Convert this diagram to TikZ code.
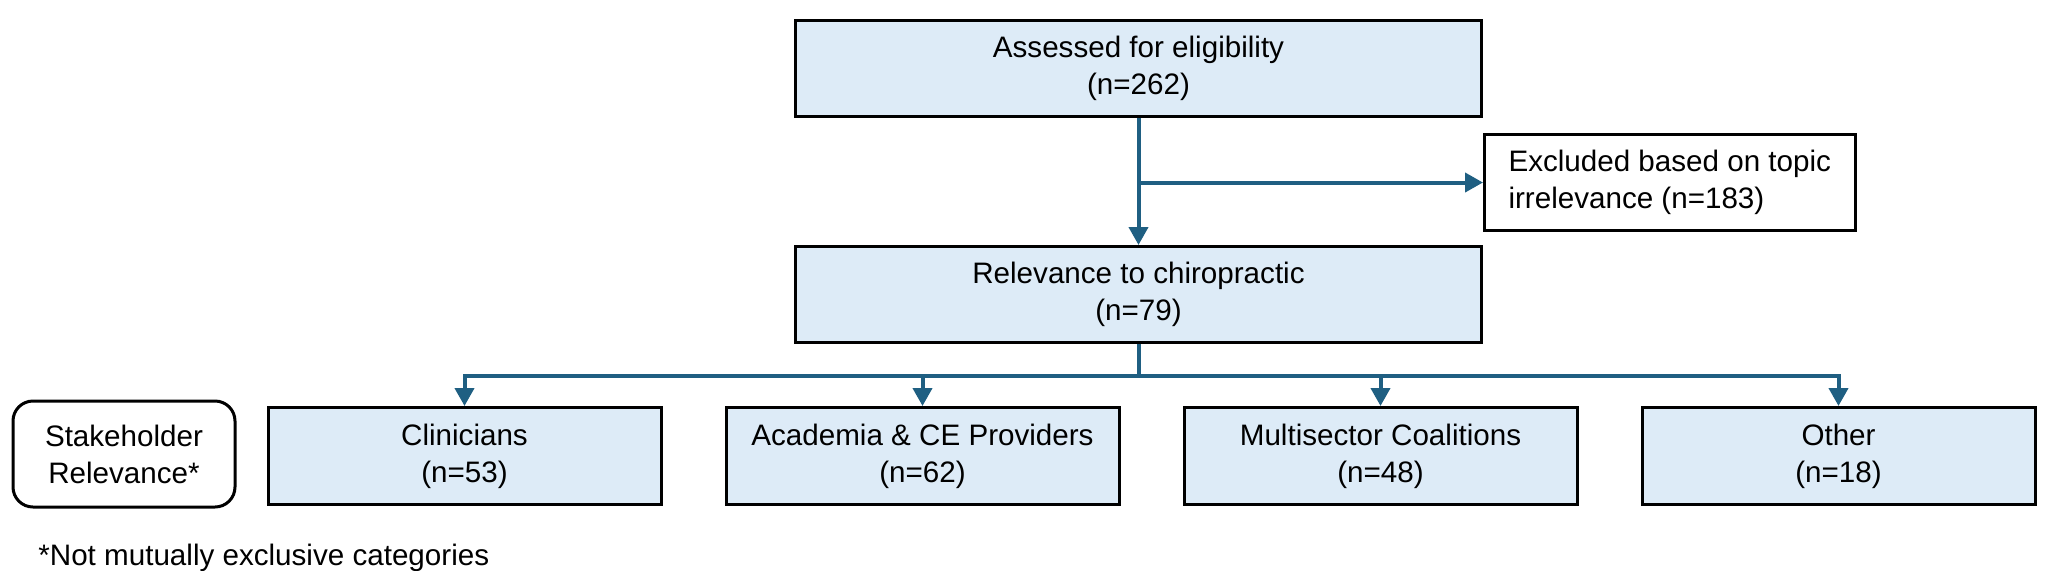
\documentclass[tikz,border=0pt]{standalone}
\usepackage{fontspec}
\setmainfont{Liberation Sans}
\usepackage{tikz}
\usetikzlibrary{arrows.meta, positioning, calc}
\definecolor{flowblue}{HTML}{1F5F82}
\definecolor{boxblue}{HTML}{DDEBF7}

\begin{document}
\begin{tikzpicture}[
    x=0.5pt, y=-0.5pt,
    every node/.style={font=\fontsize{14.8pt}{18.5pt}\selectfont},
    mainbox/.style={draw, fill=boxblue, line width=1.5pt, minimum width=343pt, minimum height=48pt, align=center},
    exclbox/.style={draw, fill=white, line width=1.5pt, minimum width=184pt, minimum height=48pt, align=left, inner xsep=12pt},
    catbox/.style={draw, fill=boxblue, line width=1.5pt, minimum width=196.5pt, minimum height=48.5pt, align=center},
    labelbox/.style={draw, rounded corners=10pt, line width=1.5pt, minimum width=111pt, minimum height=53pt, align=center},
    flow/.style={-{Triangle[length=9pt, width=9.5pt]}, line width=2pt, flowblue}
]
    \useasboundingbox (0,0) rectangle (2056,570);

    \node[mainbox] (assess) at (1138.5,68.5) {Assessed for eligibility\\(n=262)};
    \node[mainbox, below=63.5pt of assess] (relev) {Relevance to chiropractic\\(n=79)};
    \node[exclbox, anchor=west] (excl) at (1483,182.5) {Excluded based on topic\\irrelevance (n=183)};

    \node[catbox] (clin) at (464.5,456) {Clinicians\\(n=53)};
    \node[catbox, right=31pt of clin] (acad) {Academia \& CE Providers\\(n=62)};
    \node[catbox, right=31pt of acad] (multi) {Multisector Coalitions\\(n=48)};
    \node[catbox, right=31pt of multi] (other) {Other\\(n=18)};
    \node[labelbox, left=15pt of clin, yshift=1pt] (stake) {Stakeholder\\Relevance*};

    \node[anchor=base west, inner sep=0pt] (note) at (38,565) {*Not mutually exclusive categories};

    \draw[flow] (assess) -- (relev);
    \draw[flow] (assess.south |- excl.west) -- (excl.west);

    \coordinate (bus) at ($(relev.south)+(0,-16pt)$);
    \foreach \cat in {clin,acad,multi,other}
        \draw[flow] (relev.south) -- (bus) -| (\cat.north);
\end{tikzpicture}
\end{document}
